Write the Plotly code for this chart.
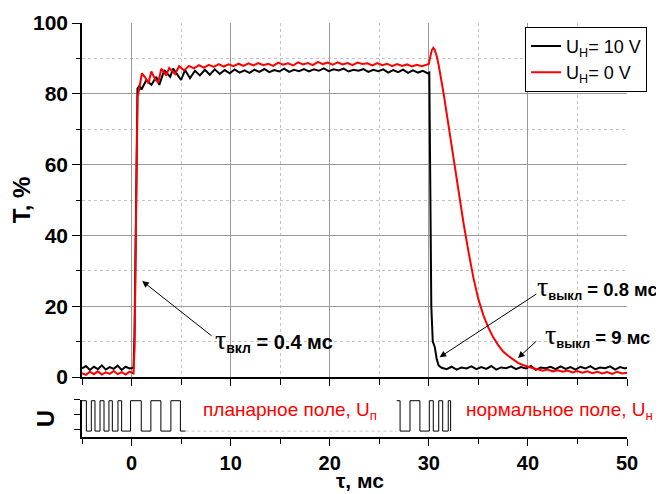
import plotly.graph_objects as go

# ---------------- data ----------------
# U_H = 10 V (black)
black_t = [
    -5.0, -4.6, -4.2, -3.8, -3.4, -3.0, -2.6, -2.2, -1.8, -1.4,
    -1.0, -0.6, -0.2, 0.2, 0.3, 0.4, 0.5, 0.6, 0.8, 1.0,
    1.5, 2.0, 2.5, 2.8, 3.3, 3.9, 4.2, 5.0, 5.4, 5.9,
    6.4, 6.9, 7.4, 7.9, 8.4, 8.9, 9.4, 9.9, 10.4, 10.9,
    11.4, 11.9, 12.4, 12.9, 13.4, 13.9, 14.4, 14.9, 15.4, 15.9,
    16.4, 16.9, 17.4, 17.9, 18.4, 18.9, 19.4, 19.9, 20.4, 20.9,
    21.4, 21.9, 22.4, 22.9, 23.4, 23.9, 24.4, 24.9, 25.4, 25.9,
    26.4, 26.9, 27.4, 27.9, 28.4, 28.9, 29.4, 29.9, 30.05, 30.15,
    30.25, 30.4, 30.6, 30.8, 31.0, 31.3, 31.8, 32.3, 32.8, 33.3,
    33.8, 34.3, 34.8, 35.3, 35.8, 36.3, 36.8, 37.3, 37.8, 38.3,
    38.8, 39.3, 39.8, 40.3, 40.8, 41.3, 41.8, 42.3, 42.8, 43.3,
    43.8, 44.3, 44.8, 45.3, 45.8, 46.3, 46.8, 47.3, 47.8, 48.3,
    48.8, 49.3, 49.8, 50.0]
black_T = [
    2.4, 3.1, 2.0, 2.9, 2.2, 3.3, 2.1, 2.8, 2.3, 3.2,
    2.0, 2.9, 2.4, 2.6, 12.0, 42.0, 70.0, 81.5, 82.3, 81.2,
    83.9, 82.5, 84.8, 82.5, 86.7, 84.8, 87.1, 83.9, 86.7, 84.4,
    86.5, 85.2, 86.8, 85.4, 86.9, 85.6, 86.7, 85.8, 86.9, 86.0,
    86.6, 85.9, 86.8, 86.2, 87.0, 86.1, 86.7, 86.3, 87.1, 86.2,
    86.8, 86.4, 87.0, 86.3, 86.9, 86.5, 87.2, 86.4, 86.9, 86.6,
    87.1, 86.3, 86.8, 86.5, 87.0, 86.2, 86.8, 86.4, 86.9, 86.0,
    86.7, 86.1, 86.8, 85.9, 86.6, 86.0, 86.5, 85.8, 86.0, 55.0,
    20.0, 10.0, 8.5, 5.0, 3.2, 2.6, 2.2, 2.9, 2.1, 2.7,
    2.4, 3.0, 2.2, 2.8, 2.3, 3.1, 2.1, 2.7, 2.5, 3.0,
    2.2, 2.8, 2.4, 3.1, 2.0, 2.7, 2.5, 2.9, 2.2, 3.0,
    2.3, 2.8, 2.1, 2.9, 2.4, 3.1, 2.2, 2.7, 2.5, 3.0,
    2.1, 2.8, 2.4, 2.6]

# U_H = 0 V (red)
red_t = [
    -5.0, -4.6, -4.2, -3.8, -3.4, -3.0, -2.6, -2.2, -1.8, -1.4,
    -1.0, -0.6, -0.2, 0.2, 0.3, 0.4, 0.5, 0.6, 0.75, 1.05,
    1.4, 1.7, 2.0, 2.4, 2.7, 3.0, 3.5, 3.8, 4.4, 4.8,
    5.3, 5.8, 6.3, 6.8, 7.3, 7.8, 8.3, 8.8, 9.3, 9.8,
    10.3, 10.8, 11.3, 11.8, 12.3, 12.8, 13.3, 13.8, 14.3, 14.8,
    15.3, 15.8, 16.3, 16.8, 17.3, 17.8, 18.3, 18.8, 19.3, 19.8,
    20.3, 20.8, 21.3, 21.8, 22.3, 22.8, 23.3, 23.8, 24.3, 24.8,
    25.3, 25.8, 26.3, 26.8, 27.3, 27.8, 28.3, 28.8, 29.3, 29.8,
    30.0, 30.15, 30.3, 30.45, 30.6, 30.8, 31.0, 31.5, 32.0, 32.5,
    33.0, 33.5, 34.0, 34.5, 35.0, 35.5, 36.0, 36.5, 37.0, 37.5,
    38.0, 38.5, 39.0, 39.5, 40.0, 40.5, 41.0, 41.5, 42.0, 42.5,
    43.0, 43.5, 44.0, 44.5, 45.0, 45.5, 46.0, 46.5, 47.0, 47.5,
    48.0, 48.5, 49.0, 49.5, 50.0]
red_T = [
    1.1, 0.6, 1.5, 0.8, 1.6, 0.7, 1.3, 0.9, 1.7, 0.8,
    1.4, 0.7, 1.5, 1.0, 8.0, 35.0, 65.0, 79.0, 81.0, 85.8,
    84.5, 83.0, 86.3, 84.0, 83.2, 87.1, 85.2, 87.3, 85.6, 87.8,
    86.6, 87.9, 87.2, 88.1, 87.4, 88.2, 87.6, 88.4, 87.7, 88.3,
    87.8, 88.5, 87.9, 88.6, 88.0, 88.7, 88.1, 88.5, 87.9, 88.8,
    88.2, 88.6, 88.0, 88.9, 88.3, 88.7, 88.1, 89.0, 88.4, 88.8,
    88.2, 88.9, 88.3, 88.7, 88.1, 88.8, 88.4, 88.6, 88.0, 88.7,
    88.1, 88.5, 87.8, 88.4, 87.9, 88.3, 87.7, 88.2, 87.8, 88.1,
    88.4, 90.5, 92.3, 93.0, 92.4, 90.6, 88.0, 80.0, 71.0, 62.0,
    52.0, 43.5, 35.5, 28.0, 22.0, 17.5, 14.0, 11.2, 9.0, 7.2,
    6.0, 5.0, 4.0, 3.4, 2.9, 2.5, 2.2, 1.8, 2.1, 1.6,
    1.9, 1.5, 1.8, 1.3, 1.7, 1.2, 1.6, 1.1, 1.5, 1.0,
    1.4, 0.9, 1.5, 1.0, 1.2]

# control voltage U (lower panel): switching times and levels
U_HI = 1.95
U_LO = -0.1
planar_t = [-5.0, -4.56, -4.06, -3.69, -3.18, -2.78, -2.28, -1.94, -1.37, -1.0,
            -0.1, 0.98, 1.95, 2.96, 3.97, 4.93, 5.44]
planar_U = [U_HI, U_LO, U_HI, U_LO, U_HI, U_LO, U_HI, U_LO, U_HI, U_LO,
            U_HI, U_LO, U_HI, U_LO, U_HI, U_LO, U_LO]
normal_t = [26.76, 27.1, 28.1, 29.1, 30.05, 30.45, 31.0, 31.4, 31.96, 32.2]
normal_U = [U_HI, U_LO, U_HI, U_LO, U_HI, U_LO, U_HI, U_LO, U_HI, U_LO]
idle_t = [5.44, 26.76]
idle_U = [U_LO, U_LO]

legend_names = ["U<sub>H</sub>= 10 V", "U<sub>H</sub>= 0 V"]

# ---------------- figure ----------------
FONT = "Arial, Liberation Sans, sans-serif"
fig = go.Figure()
fig.add_trace(go.Scatter(x=black_t, y=black_T, mode="lines", name=legend_names[0],
                         line=dict(color="black", width=2), xaxis="x", yaxis="y"))
fig.add_trace(go.Scatter(x=red_t, y=red_T, mode="lines", name=legend_names[1],
                         line=dict(color="red", width=2), xaxis="x", yaxis="y"))
fig.add_trace(go.Scatter(x=idle_t, y=idle_U, mode="lines", showlegend=False,
                         line=dict(color="#c8c8c8", width=1, dash="dot"),
                         xaxis="x2", yaxis="y2"))
fig.add_trace(go.Scatter(x=planar_t, y=planar_U, mode="lines", showlegend=False,
                         line=dict(color="black", width=1, shape="hv"),
                         xaxis="x2", yaxis="y2"))
fig.add_trace(go.Scatter(x=normal_t, y=normal_U, mode="lines", showlegend=False,
                         line=dict(color="black", width=1, shape="hv"),
                         xaxis="x2", yaxis="y2"))

grid_major = "#9a9a9a"
grid_minor = "#c4c4c4"

# the page body adds an 8 px offset, so margins are set to compensate
fig.update_layout(
    width=664, height=494,
    margin=dict(l=74, r=45, t=15, b=65, autoexpand=False),
    plot_bgcolor="white", paper_bgcolor="white",
    font=dict(family=FONT, color="black"),
    xaxis=dict(domain=[0, 1], anchor="y", range=[-5, 50], automargin=False,
               showline=True, linecolor="black", linewidth=1.5,
               ticks="outside", ticklen=7, tickwidth=1.2, tickcolor="black",
               tick0=0, dtick=10, showticklabels=False,
               showgrid=True, gridcolor=grid_major, gridwidth=1, zeroline=False,
               minor=dict(dtick=5, tick0=0, ticks="outside", ticklen=6, tickcolor="black",
                          showgrid=True, gridcolor=grid_minor, griddash="dot")),
    yaxis=dict(domain=[0.1449, 1], anchor="x", range=[0, 100], automargin=False,
               showline=True, linecolor="black", linewidth=1.5,
               ticks="outside", ticklen=8, tickwidth=1.2, tickcolor="black",
               tick0=0, dtick=20,
               tickfont=dict(size=21, weight="bold"),
               title=dict(text="T, %", font=dict(size=24, weight="bold"), standoff=0),
               showgrid=True, gridcolor=grid_major, gridwidth=1, zeroline=False,
               minor=dict(dtick=10, tick0=0, ticks="outside", ticklen=4, tickcolor="black",
                          showgrid=True, gridcolor=grid_minor, griddash="dot")),
    xaxis2=dict(domain=[0, 1], anchor="y2", range=[-5, 50], automargin=False,
                showline=True, linecolor="black", linewidth=1.5,
                ticks="outside", ticklen=7, tickwidth=1.2, tickcolor="black",
                tick0=0, dtick=10,
                tickfont=dict(size=20, weight="bold"),
                showgrid=False, zeroline=False,
                minor=dict(dtick=5, tick0=0, ticks="outside", ticklen=5, tickcolor="black")),
    yaxis2=dict(domain=[0, 0.0894], anchor="x2", range=[-0.5, 2.0], automargin=False,
                showline=True, linecolor="black", linewidth=1.5,
                ticks="outside", ticklen=6, tickwidth=1.2, tickcolor="black",
                tickvals=[0, 1, 2], showticklabels=False,
                title=dict(text="U", font=dict(size=24, weight="bold"), standoff=13),
                showgrid=False, zeroline=False),
    legend=dict(x=0.813, y=0.991, xanchor="left", yanchor="top",
                bordercolor="black", borderwidth=1, bgcolor="white",
                font=dict(size=18, family=FONT)),
)

# x-axis title of the lower panel, placed just under the tick labels
fig.add_annotation(xref="paper", yref="paper", x=0.51, y=-0.105, xanchor="center",
                   yanchor="middle", showarrow=False, text="<b>τ, мс</b>",
                   font=dict(size=21, family=FONT, color="black"))

tau = "<span style='font-size:28px;font-family:Liberation Serif'>τ</span>"
arrow_common = dict(xref="x", yref="y", axref="x", ayref="y", text="", showarrow=True,
                    arrowhead=2, arrowsize=1.3, arrowwidth=1, arrowcolor="black", standoff=0)
fig.add_annotation(x=1.08, y=27.1, ax=8.23, ay=11.3, **arrow_common)
fig.add_annotation(x=31.09, y=5.6, ax=41.0, ay=23.7, **arrow_common)
fig.add_annotation(x=39.0, y=5.4, ax=41.0, ay=10.5, **arrow_common)

txt_common = dict(xref="x", yref="y", showarrow=False, xanchor="left", yanchor="middle",
                  font=dict(size=20, family=FONT, color="black"))
fig.add_annotation(x=8.2, y=10.5, text=tau + "<b><sub>вкл</sub> = 0.4 мс</b>", **txt_common)
txt_right = dict(txt_common, font=dict(size=18.5, family=FONT, color="black"))
fig.add_annotation(x=40.75, y=25.4, text=tau + "<b><sub>выкл</sub> = 0.8 мс</b>", **txt_right)
fig.add_annotation(x=41.55, y=11.9, text=tau + "<b><sub>выкл</sub> = 9 мс</b>", **txt_right)

red_common = dict(xref="x2", yref="y2", showarrow=False, xanchor="left", yanchor="middle",
                  font=dict(size=19, family=FONT, color="red"))
fig.add_annotation(x=7.0, y=1.27, text="планарное поле, U<sub>п</sub>", **red_common)
fig.add_annotation(x=33.6, y=1.27, text="нормальное поле, U<sub>н</sub>", **red_common)

fig.write_html("out.html")
